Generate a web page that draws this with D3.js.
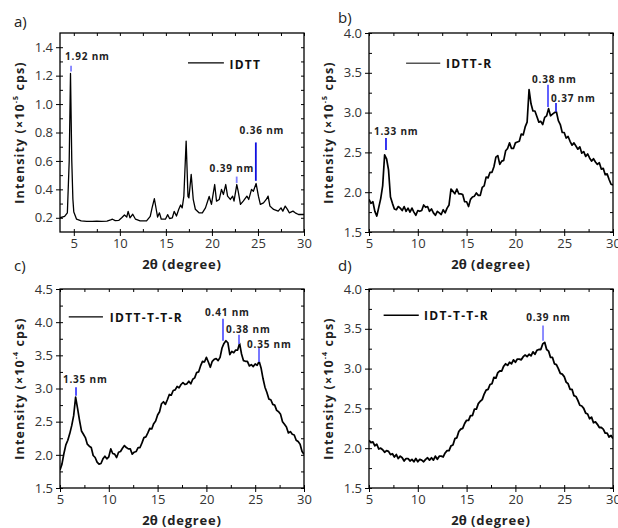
<!DOCTYPE html>
<html lang="en">
<head>
  <meta charset="UTF-8">
  <title>XRD patterns</title>
  <script src="https://d3js.org/d3.v7.min.js"></script>
  <style>
    body { margin: 0; background: #fff; }
    svg text { font-family: "Open Sans", "DejaVu Sans", sans-serif; }
  </style>
</head>
<body>
  <div id="chart"></div>
  <script>
    // a) IDTT - sharp peaks, read point by point
    var aTheta = [3.5, 4.0, 4.3, 4.5, 4.64, 4.78, 4.9, 5.0, 5.3, 5.8, 6.4, 7.0, 7.5, 8.0, 8.6, 9.0, 9.2, 9.5, 9.9,
      10.2, 10.5, 10.75, 10.9, 11.1, 11.4, 11.7, 12.2, 12.9, 13.3, 13.5, 13.75, 13.95, 14.1, 14.3, 14.5, 14.95,
      15.2, 15.4, 15.7, 15.9, 16.15, 16.4, 16.6, 16.77, 16.95, 17.2, 17.4, 17.5, 17.75, 17.97, 18.2, 18.6, 18.96,
      19.3, 19.7, 19.95, 20.3, 20.5, 20.8, 21.04, 21.25, 21.5, 21.7, 22.0, 22.25, 22.4, 22.7, 22.85, 23.1, 23.4,
      23.8, 24.0, 24.3, 24.5, 24.8, 25.05, 25.26, 25.6, 25.9, 26.1, 26.3, 26.5, 26.7, 27.2, 27.5, 27.7, 27.96,
      28.2, 28.4, 28.8, 29.05, 29.4, 30];
    var aIntensity = [0.20, 0.21, 0.235, 0.60, 1.215, 0.60, 0.33, 0.24, 0.19, 0.178, 0.175, 0.175, 0.176, 0.175, 0.177, 0.185, 0.19, 0.18, 0.182,
      0.20, 0.22, 0.205, 0.245, 0.20, 0.225, 0.19, 0.178, 0.178, 0.21, 0.27, 0.334, 0.26, 0.205, 0.235, 0.19, 0.19,
      0.222, 0.195, 0.20, 0.245, 0.212, 0.26, 0.29, 0.27, 0.35, 0.74, 0.35, 0.34, 0.505, 0.33, 0.26, 0.235, 0.235,
      0.27, 0.35, 0.294, 0.434, 0.317, 0.329, 0.40, 0.364, 0.434, 0.352, 0.329, 0.352, 0.317, 0.434, 0.387, 0.294, 0.317,
      0.352, 0.329, 0.40, 0.387, 0.441, 0.352, 0.294, 0.305, 0.329, 0.352, 0.282, 0.27, 0.259, 0.247, 0.27, 0.247, 0.282,
      0.259, 0.235, 0.247, 0.235, 0.223, 0.223];

    // b), c), d) are read every 0.2 degree from 5 to 30
    var scanStart = 5, scanStep = 0.2;

    var bIntensity = [1.91, 1.86, 1.88, 1.76, 1.70, 1.81, 1.92, 2.08, 2.47, 2.42,
      2.28, 1.94, 1.86, 1.79, 1.78, 1.82, 1.80, 1.77, 1.82, 1.76,
      1.80, 1.75, 1.80, 1.75, 1.71, 1.77, 1.76, 1.77, 1.84, 1.81,
      1.82, 1.76, 1.79, 1.74, 1.71, 1.76, 1.74, 1.72, 1.78, 1.74,
      1.80, 1.84, 2.04, 2.01, 1.98, 2.04, 1.98, 1.98, 1.97, 1.88,
      1.88, 1.82, 1.91, 1.94, 1.95, 1.99, 1.96, 1.96, 2.06, 2.08,
      2.19, 2.18, 2.25, 2.25, 2.32, 2.44, 2.46, 2.35, 2.39, 2.40,
      2.52, 2.55, 2.62, 2.55, 2.55, 2.62, 2.63, 2.64, 2.73, 2.72,
      2.82, 2.88, 3.29, 3.11, 3.02, 3.02, 2.95, 2.88, 2.89, 2.85,
      2.94, 2.96, 3.05, 2.96, 2.98, 3.00, 3.01, 2.90, 2.85, 2.75,
      2.75, 2.68, 2.70, 2.64, 2.59, 2.62, 2.58, 2.54, 2.57, 2.49,
      2.51, 2.45, 2.48, 2.43, 2.39, 2.42, 2.38, 2.35, 2.37, 2.29,
      2.30, 2.22, 2.23, 2.16, 2.10, 2.09];

    var cIntensity = [1.77, 1.86, 2.02, 2.15, 2.22, 2.32, 2.44, 2.59, 2.87, 2.70,
      2.52, 2.36, 2.31, 2.26, 2.16, 2.13, 2.11, 1.99, 1.96, 1.89,
      1.86, 1.87, 1.94, 1.98, 1.94, 1.97, 2.09, 2.02, 2.01, 1.96,
      2.04, 2.05, 2.10, 2.14, 2.11, 2.09, 2.09, 2.01, 2.04, 2.05,
      2.11, 2.11, 2.18, 2.26, 2.27, 2.33, 2.40, 2.39, 2.47, 2.51,
      2.60, 2.65, 2.77, 2.80, 2.76, 2.83, 2.91, 2.90, 2.97, 2.98,
      3.03, 3.01, 3.06, 3.09, 3.06, 3.07, 3.11, 3.07, 3.14, 3.16,
      3.24, 3.25, 3.34, 3.41, 3.40, 3.47, 3.40, 3.32, 3.41, 3.44,
      3.45, 3.42, 3.47, 3.61, 3.68, 3.72, 3.69, 3.51, 3.56, 3.54,
      3.58, 3.58, 3.68, 3.52, 3.42, 3.41, 3.41, 3.34, 3.36, 3.33,
      3.37, 3.35, 3.41, 3.31, 3.15, 3.02, 2.94, 2.84, 2.83, 2.76,
      2.75, 2.67, 2.65, 2.61, 2.50, 2.46, 2.42, 2.33, 2.35, 2.31,
      2.30, 2.22, 2.20, 2.16, 2.05, 2.01];

    var dIntensity = [2.10, 2.07, 2.08, 2.03, 2.05, 1.99, 2.00, 1.98, 1.95, 1.97,
      1.96, 1.92, 1.93, 1.89, 1.92, 1.87, 1.90, 1.88, 1.84, 1.87,
      1.87, 1.84, 1.86, 1.83, 1.87, 1.83, 1.86, 1.85, 1.83, 1.86,
      1.88, 1.85, 1.88, 1.85, 1.90, 1.86, 1.90, 1.90, 1.89, 1.94,
      1.97, 1.97, 2.03, 2.04, 2.12, 2.13, 2.21, 2.24, 2.25, 2.31,
      2.35, 2.35, 2.41, 2.41, 2.49, 2.49, 2.56, 2.59, 2.61, 2.68,
      2.73, 2.74, 2.80, 2.81, 2.89, 2.88, 2.95, 2.97, 2.97, 3.03,
      3.06, 3.04, 3.08, 3.06, 3.11, 3.08, 3.12, 3.12, 3.11, 3.15,
      3.17, 3.15, 3.18, 3.16, 3.21, 3.18, 3.23, 3.24, 3.24, 3.31,
      3.33, 3.24, 3.22, 3.14, 3.14, 3.06, 3.05, 3.00, 2.94, 2.93,
      2.90, 2.83, 2.81, 2.74, 2.74, 2.66, 2.65, 2.60, 2.54, 2.53,
      2.50, 2.44, 2.43, 2.37, 2.39, 2.32, 2.33, 2.30, 2.26, 2.26,
      2.24, 2.19, 2.19, 2.14, 2.16, 2.12];

    function scanTheta(values) {
      return values.map(function(v, i) { return scanStart + i * scanStep; });
    }

    var xTicks = [5, 10, 15, 20, 25, 30];
    var xMinor = [7.5, 12.5, 17.5, 22.5, 27.5];

    var panels = [
      { id: 'a', label: 'a)', lx: 14, ly: 27, left: 60, top: 33, theta: aTheta, counts: aIntensity, lineWidth: 1.3,
        xDomain: [3.5, 30], yDomain: [0.1, 1.5], yTicks: [0.2, 0.4, 0.6, 0.8, 1.0, 1.2, 1.4],
        yMinor: [0.3, 0.5, 0.7, 0.9, 1.1, 1.3], exp: '-5', legend: 'IDTT', legendColor: '#000',
        legendAt: [17.4, 21.3, 1.29], legendText: [21.9, 1.25],
        peaks: [
          { text: '1.92 nm', at: 4.7, lo: 1.23, hi: 1.27, tx: 4.05, ty: 1.31, color: '#8080ff' },
          { text: '0.39 nm', at: 22.69, lo: 0.445, hi: 0.49, tx: 19.75, ty: 0.524, color: '#8080ff' },
          { text: '0.36 nm', at: 24.77, lo: 0.46, hi: 0.73, tx: 23.0, ty: 0.786, color: '#1010e0' }
        ] },
      { id: 'b', label: 'b)', lx: 338, ly: 23, left: 369, top: 33, theta: scanTheta(bIntensity), counts: bIntensity, lineWidth: 1.7,
        xDomain: [5, 30], yDomain: [1.5, 4.0], yTicks: [1.5, 2.0, 2.5, 3.0, 3.5, 4.0],
        yMinor: [1.75, 2.25, 2.75, 3.25, 3.75], exp: '-5', legend: 'IDTT-R', legendColor: '#555',
        legendAt: [8.8, 12.3, 3.62], legendText: [12.9, 3.56],
        peaks: [
          { text: '1.33 nm', at: 6.74, lo: 2.53, hi: 2.68, tx: 5.5, ty: 2.72, color: '#2020f0' },
          { text: '0.38 nm', at: 23.34, lo: 3.07, hi: 3.35, tx: 21.7, ty: 3.37, color: '#5050ff' },
          { text: '0.37 nm', at: 24.16, lo: 3.01, hi: 3.12, tx: 23.65, ty: 3.13, color: '#3030f0' }
        ] },
      { id: 'c', label: 'c)', lx: 14, ly: 271, left: 60, top: 289, theta: scanTheta(cIntensity), counts: cIntensity, lineWidth: 1.7,
        xDomain: [5, 30], yDomain: [1.5, 4.5], yTicks: [1.5, 2.0, 2.5, 3.0, 3.5, 4.0, 4.5],
        yMinor: [1.75, 2.25, 2.75, 3.25, 3.75, 4.25], exp: '-4', legend: 'IDTT-T-T-R', legendColor: '#000',
        legendAt: [5.9, 9.4, 4.08], legendText: [10.1, 4.0],
        peaks: [
          { text: '1.35 nm', at: 6.64, lo: 2.89, hi: 3.02, tx: 5.3, ty: 3.08, color: '#4040ff' },
          { text: '0.41 nm', at: 21.7, lo: 3.72, hi: 4.05, tx: 19.86, ty: 4.09, color: '#5a5aff' },
          { text: '0.38 nm', at: 23.34, lo: 3.67, hi: 3.81, tx: 22.0, ty: 3.84, color: '#6a6aff' },
          { text: '0.35 nm', at: 25.39, lo: 3.40, hi: 3.61, tx: 24.16, ty: 3.61, color: '#6a6aff' }
        ] },
      { id: 'd', label: 'd)', lx: 338, ly: 271, left: 369, top: 289, theta: scanTheta(dIntensity), counts: dIntensity, lineWidth: 1.8,
        xDomain: [5, 30], yDomain: [1.5, 4.0], yTicks: [1.5, 2.0, 2.5, 3.0, 3.5, 4.0],
        yMinor: [1.75, 2.25, 2.75, 3.25, 3.75], exp: '-4', legend: 'IDT-T-T-R', legendColor: '#000',
        legendAt: [6.5, 10.1, 3.67], legendText: [10.64, 3.61],
        peaks: [
          { text: '0.39 nm', at: 22.83, lo: 3.35, hi: 3.54, tx: 21.1, ty: 3.6, color: '#8080ff' }
        ] }
    ];

    var width = 244, height = 199;

    var svg = d3.select('#chart')
      .append('svg')
      .attr('width', 618)
      .attr('height', 528);

    function tickAxis(g, axis) {
      g.call(axis);
      g.select('.domain').remove();
      g.selectAll('line').attr('stroke', '#000').attr('stroke-width', 1);
      return g;
    }

    function drawPanel(p) {
      var g = svg.append('g').attr('transform', 'translate(' + p.left + ',' + p.top + ')');
      var x = d3.scaleLinear().domain(p.xDomain).range([0, width]);
      var y = d3.scaleLinear().domain(p.yDomain).range([height, 0]);

      g.append('clipPath').attr('id', 'clip-' + p.id)
        .append('rect').attr('width', width).attr('height', height);

      // pattern
      var line = d3.line()
        .x(function(d) { return x(d[0]); })
        .y(function(d) { return y(d[1]); });
      g.append('path')
        .datum(d3.zip(p.theta, p.counts))
        .attr('clip-path', 'url(#clip-' + p.id + ')')
        .attr('fill', 'none')
        .attr('stroke', '#000')
        .attr('stroke-width', p.lineWidth)
        .attr('stroke-linejoin', 'round')
        .attr('d', line);

      // bottom axis with labels, ticks crossing the frame
      var bottom = tickAxis(g.append('g').attr('transform', 'translate(0,' + height + ')'),
        d3.axisBottom(x).tickValues(xTicks).tickSizeInner(4).tickSizeOuter(0).tickPadding(3));
      bottom.selectAll('text').attr('font-size', 13).attr('fill', '#333');
      tickAxis(g.append('g').attr('transform', 'translate(0,' + height + ')'),
        d3.axisBottom(x).tickValues(xTicks).tickSize(-3).tickFormat(''));
      tickAxis(g.append('g').attr('transform', 'translate(0,' + height + ')'),
        d3.axisBottom(x).tickValues(xMinor).tickSize(-3).tickFormat(''));
      tickAxis(g.append('g'), d3.axisTop(x).tickValues(xTicks.concat(xMinor)).tickSize(-3).tickFormat(''));

      var left = tickAxis(g.append('g'),
        d3.axisLeft(y).tickValues(p.yTicks).tickSizeInner(4).tickSizeOuter(0).tickPadding(3).tickFormat(d3.format('.1f')));
      left.selectAll('text').attr('font-size', 13).attr('fill', '#333');
      tickAxis(g.append('g'), d3.axisLeft(y).tickValues(p.yTicks).tickSize(-3).tickFormat(''));
      tickAxis(g.append('g'), d3.axisLeft(y).tickValues(p.yMinor).tickSize(-3).tickFormat(''));
      tickAxis(g.append('g').attr('transform', 'translate(' + width + ',0)'),
        d3.axisRight(y).tickValues(p.yTicks.concat(p.yMinor)).tickSize(-3).tickFormat(''));

      g.append('rect')
        .attr('width', width)
        .attr('height', height)
        .attr('fill', 'none')
        .attr('stroke', '#000')
        .attr('stroke-width', 1.3);

      // axis titles
      var xt = g.append('text')
        .attr('x', width / 2)
        .attr('y', height + 37)
        .attr('text-anchor', 'middle')
        .attr('font-size', 13)
        .attr('font-weight', 'bold')
        .attr('fill', '#222');
      xt.append('tspan').text('2θ');
      xt.append('tspan').attr('letter-spacing', 0.8).text(' (degree)');

      var yt = g.append('text')
        .attr('transform', 'rotate(-90)')
        .attr('x', -height / 2)
        .attr('y', -36)
        .attr('text-anchor', 'middle')
        .attr('font-size', 12.5)
        .attr('font-weight', 'bold')
        .attr('letter-spacing', 1.1)
        .attr('fill', '#222');
      yt.append('tspan').text('Intensity (×10');
      yt.append('tspan').attr('font-size', 7).attr('dy', -6).text(p.exp);
      yt.append('tspan').attr('dy', 6).text(' cps)');

      // legend
      g.append('line')
        .attr('x1', x(p.legendAt[0])).attr('x2', x(p.legendAt[1]))
        .attr('y1', y(p.legendAt[2])).attr('y2', y(p.legendAt[2]))
        .attr('stroke', p.legendColor).attr('stroke-width', 1.3);
      g.append('text')
        .attr('x', x(p.legendText[0]))
        .attr('y', y(p.legendText[1]))
        .attr('font-size', 12)
        .attr('font-weight', 'bold')
        .attr('letter-spacing', 1.3)
        .attr('fill', '#111')
        .text(p.legend);

      // peak markers
      p.peaks.forEach(function(k) {
        g.append('line')
          .attr('x1', x(k.at)).attr('x2', x(k.at))
          .attr('y1', y(k.lo)).attr('y2', y(k.hi))
          .attr('stroke', k.color).attr('stroke-width', 1.8);
        g.append('text')
          .attr('x', x(k.tx))
          .attr('y', y(k.ty))
          .attr('font-size', 10)
          .attr('font-weight', 'bold')
          .attr('letter-spacing', 0.8)
          .attr('fill', '#222')
          .text(k.text);
      });

      svg.append('text')
        .attr('x', p.lx)
        .attr('y', p.ly)
        .attr('font-size', 15)
        .attr('fill', '#222')
        .text(p.label);
    }

    panels.forEach(drawPanel);
  </script>
</body>
</html>
